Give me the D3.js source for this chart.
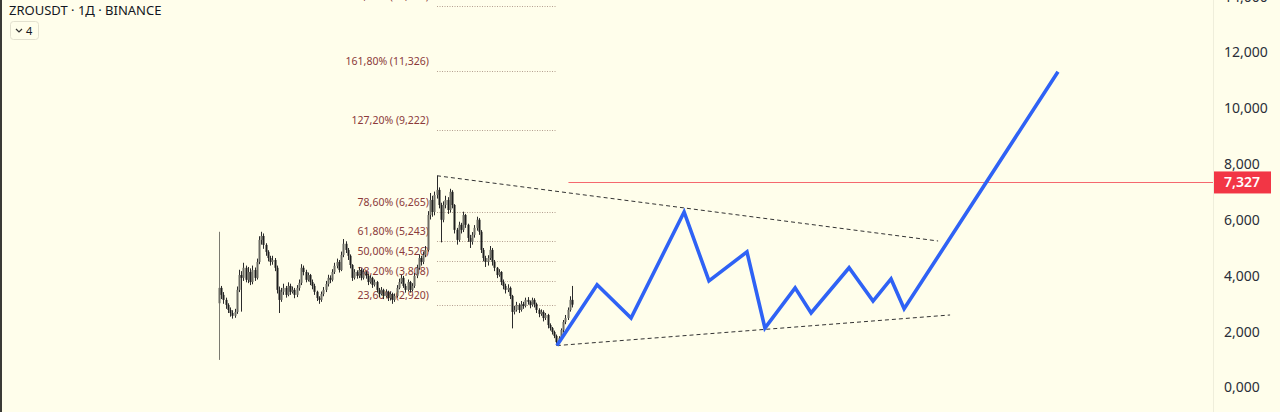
<!DOCTYPE html>
<html><head><meta charset="utf-8">
<script src="https://cdn.jsdelivr.net/npm/d3@7/dist/d3.min.js"></script>
<style>
html,body{margin:0;padding:0;background:#fffeeb;overflow:hidden}
svg{display:block}
</style></head><body>
<svg id="c" width="1280" height="412"></svg>
<script>
// ---- data ----
const firstOpen = 3.0;
const closes = [3.55,3.30,3.12,2.94,2.76,2.65,2.55,2.69,3.48,4.01,3.91,4.27,3.84,4.12,3.76,4.19,3.91,4.48,5.27,5.41,
5.09,4.84,4.62,4.48,4.55,4.27,3.48,3.12,3.41,3.55,3.30,3.62,3.41,3.48,3.30,3.55,3.73,4.27,4.12,3.84,
4.01,3.76,3.62,3.41,3.19,3.12,3.33,3.48,3.69,3.91,3.84,4.12,4.34,4.48,4.19,4.73,5.13,4.91,4.70,4.37,
3.91,4.12,3.98,4.19,3.91,4.12,3.98,3.76,3.91,3.66,3.76,3.48,3.33,3.48,3.26,3.41,3.19,3.33,3.12,3.26,
3.55,3.76,3.91,3.62,3.48,3.76,3.48,3.62,3.98,4.27,4.62,4.48,4.73,4.91,6.16,6.70,6.27,6.88,7.06,6.52,
5.99,6.52,6.70,6.34,6.99,6.52,5.63,5.27,5.81,5.63,6.16,5.81,5.34,5.20,5.45,5.70,5.99,5.56,4.91,4.62,
4.48,4.62,4.91,4.48,4.27,4.01,4.12,3.76,3.62,3.48,3.55,3.26,2.69,2.76,2.94,2.76,2.97,2.90,3.12,3.05,
2.94,3.12,2.97,2.76,2.62,2.69,2.47,2.58,2.22,2.11,1.97,1.83,1.61,1.76,2.04,2.33,2.47,2.76,3.12,2.95];
const highs = [5.56,3.62,3.40,3.20,3.00,2.85,2.75,2.80,3.60,4.20,4.15,4.45,4.35,4.30,4.25,4.35,4.28,4.60,5.40,5.56,
5.50,5.15,4.90,4.70,4.70,4.62,4.35,3.60,3.55,3.70,3.62,3.75,3.70,3.60,3.55,3.65,3.85,4.40,4.35,4.20,
4.10,4.05,3.85,3.70,3.45,3.25,3.42,3.58,3.80,4.02,4.00,4.22,4.45,4.60,4.55,4.85,5.30,5.22,4.98,4.75,
4.40,4.22,4.18,4.30,4.25,4.22,4.15,4.05,4.00,3.95,3.85,3.80,3.55,3.58,3.52,3.50,3.45,3.42,3.38,3.35,
3.65,3.88,4.02,3.98,3.70,3.85,3.80,3.72,4.08,4.38,4.75,4.70,4.85,5.05,6.30,6.95,6.85,7.00,7.567,7.15,
6.60,6.65,6.85,6.80,7.10,7.05,6.55,5.70,5.92,5.88,6.28,6.20,5.85,5.45,5.55,5.80,6.10,6.05,5.62,4.98,
4.70,4.72,5.05,4.98,4.55,4.30,4.22,4.15,3.85,3.70,3.68,3.60,3.30,2.90,3.05,3.00,3.08,3.05,3.20,3.22,
3.10,3.20,3.18,3.02,2.82,2.78,2.75,2.65,2.62,2.28,2.15,2.02,1.88,1.82,2.10,2.40,2.58,2.85,3.25,3.62];
const lows = [0.97,3.15,2.98,2.80,2.65,2.52,2.45,2.48,2.62,3.40,2.70,3.80,3.75,3.72,3.65,3.68,3.80,3.85,4.40,5.10,
4.95,4.70,4.50,4.35,4.38,4.15,3.35,2.65,3.05,3.30,3.20,3.25,3.30,3.35,3.18,3.22,3.45,3.65,4.00,3.75,
3.78,3.65,3.50,3.30,3.08,2.98,3.05,3.25,3.40,3.60,3.72,3.78,4.05,4.25,4.10,4.15,4.65,4.80,4.55,4.25,
3.80,3.85,3.88,3.90,3.82,3.85,3.88,3.65,3.70,3.55,3.60,3.38,3.22,3.28,3.15,3.20,3.08,3.10,2.98,3.05,
3.20,3.50,3.70,3.55,3.38,3.42,3.38,3.42,3.55,3.90,4.20,4.35,4.40,4.65,4.85,6.00,6.10,6.15,6.75,6.40,
5.18,5.90,6.40,6.20,6.25,6.40,5.50,5.10,5.20,5.50,5.55,5.70,5.20,4.98,5.10,5.35,5.60,5.45,4.80,4.50,
4.30,4.35,4.55,4.35,4.15,3.90,3.95,3.65,3.50,3.35,3.40,3.15,2.10,2.60,2.70,2.65,2.70,2.80,2.85,2.95,
2.82,2.88,2.85,2.65,2.50,2.55,2.35,2.40,2.10,2.02,1.88,1.75,1.484,1.55,1.70,1.95,2.25,2.40,2.70,2.85];

const projIdx = [152.2,170.3,185.6,209.5,220.7,237.8,245.9,259.5,266.7,283.8,294.6,302.7,308.6,377.9];
const projVal = [1.484,3.66,2.47,6.27,3.80,4.84,2.11,3.55,2.65,4.27,3.08,3.87,2.80,11.29];

const fibPct = ["200,00%","161,80%","127,20%","78,60%","61,80%","50,00%","38,20%","23,60%"];
const fibVal = [13.650,11.326,9.222,6.265,5.243,4.526,3.808,2.920];
const fibRange = [98.2, 152.2];

const trendUpper = [[98.2,7.567],[323.9,5.23]];
const trendLower = [[152.2,1.484],[329.3,2.58]];

const lastPrice = 7.327;
const lastPriceStart = 157.4;
const yTicks = [0,2,4,6,8,10,12,14];
const title = "ZROUSDT · 1Д · BINANCE";

// ---- chart ----
const svg = d3.select("#c");
const W = 1280, H = 412, axisX = 1213;
const x = d3.scaleLinear().domain([0,159]).range([219,572]);
const y = d3.scaleLinear().domain([0,12]).range([387,52]);
const fmt = v => d3.format(",.3f")(v).replace(".", ",");

svg.append("rect").attr("width",W).attr("height",H).attr("fill","#fffeeb");

// axis separator
svg.append("line").attr("x1",axisX+0.5).attr("x2",axisX+0.5).attr("y1",0).attr("y2",H)
  .attr("stroke","#efeedb").attr("stroke-width",1);

// y axis
const yAxis = d3.axisRight(y).tickValues(yTicks).tickSize(0).tickPadding(0).tickFormat(fmt);
const ga = svg.append("g").attr("transform",`translate(${axisX+11},0)`).call(yAxis);
ga.select(".domain").remove();
ga.selectAll("text").attr("font-family","'Noto Sans', sans-serif").attr("font-size",14)
  .attr("fill","#2a2e39").attr("dy","0.35em");

// fib lines & labels
const fg = svg.append("g");
fibVal.forEach((v,i)=>{
  fg.append("line").attr("x1",x(fibRange[0])).attr("x2",x(fibRange[1]))
    .attr("y1",Math.round(y(v))+0.5).attr("y2",Math.round(y(v))+0.5)
    .attr("stroke","#a88f80").attr("stroke-width",1).attr("stroke-dasharray","1,1.5").attr("opacity",0.85);
  fg.append("text").attr("x",x(fibRange[0])-8).attr("y",y(v)-6)
    .attr("text-anchor","end").attr("font-family","'Noto Sans', sans-serif").attr("font-size",10.5)
    .attr("fill","#8b3a3a").text(`${fibPct[i]} (${fmt(v)})`);
});

// candles
const cg = svg.append("g");
closes.forEach((c,i)=>{
  const o = i===0 ? firstOpen : closes[i-1];
  const cx = Math.round(x(i))+0.5;
  cg.append("line").attr("x1",cx).attr("x2",cx).attr("y1",y(highs[i])).attr("y2",y(lows[i]))
    .attr("stroke", i===0 ? "#7a7a70" : "#2b2b2b").attr("stroke-width",1);
  const top = y(Math.max(o,c)), bot = y(Math.min(o,c));
  cg.append("rect").attr("x",cx-1).attr("y",top).attr("width",2).attr("height",Math.max(1,bot-top))
    .attr("fill", c>=o ? "#6b6b63" : "#1e1e1e");
});

// trend lines
[trendUpper,trendLower].forEach(t=>{
  svg.append("line").attr("x1",x(t[0][0])).attr("y1",y(t[0][1])).attr("x2",x(t[1][0])).attr("y2",y(t[1][1]))
    .attr("stroke","#333").attr("stroke-width",1).attr("stroke-dasharray","4,3");
});

// last price line
svg.append("line").attr("x1",x(lastPriceStart)).attr("x2",axisX).attr("y1",Math.round(y(lastPrice))+0.5).attr("y2",Math.round(y(lastPrice))+0.5)
  .attr("stroke","#f23645").attr("stroke-width",1).attr("opacity",0.75);
svg.append("rect").attr("x",axisX+1).attr("y",y(lastPrice)-11).attr("width",57).attr("height",22).attr("fill","#f23645");
svg.append("text").attr("x",axisX+11).attr("y",y(lastPrice)).attr("dy","0.36em")
  .attr("font-family","'Noto Sans', sans-serif").attr("font-size",14).attr("font-weight",600)
  .attr("fill","#ffffff").text(fmt(lastPrice));

// projection path
const line = d3.line().x(d=>x(d[0])).y(d=>y(d[1]));
svg.append("path").datum(projIdx.map((d,i)=>[d,projVal[i]])).attr("d",line)
  .attr("fill","none").attr("stroke","#2f62f5").attr("stroke-width",3.6).attr("stroke-linejoin","miter");

// left border
svg.append("rect").attr("x",0).attr("y",0).attr("width",2).attr("height",H).attr("fill","#3a3a36");

// title
svg.append("text").attr("x",9).attr("y",15).attr("font-family","'Noto Sans', sans-serif").attr("font-size",13)
  .attr("fill","#131722").text(title);
svg.append("rect").attr("x",10.5).attr("y",21.5).attr("width",28).attr("height",18).attr("rx",3)
  .attr("fill","none").attr("stroke","#e3e1cf");
svg.append("path").attr("d","M16,29 L19,32 L22,29").attr("fill","none").attr("stroke","#333").attr("stroke-width",1.2);
svg.append("text").attr("x",26).attr("y",35).attr("font-family","'Noto Sans', sans-serif").attr("font-size",11)
  .attr("fill","#131722").text("4");
</script>
</body></html>
